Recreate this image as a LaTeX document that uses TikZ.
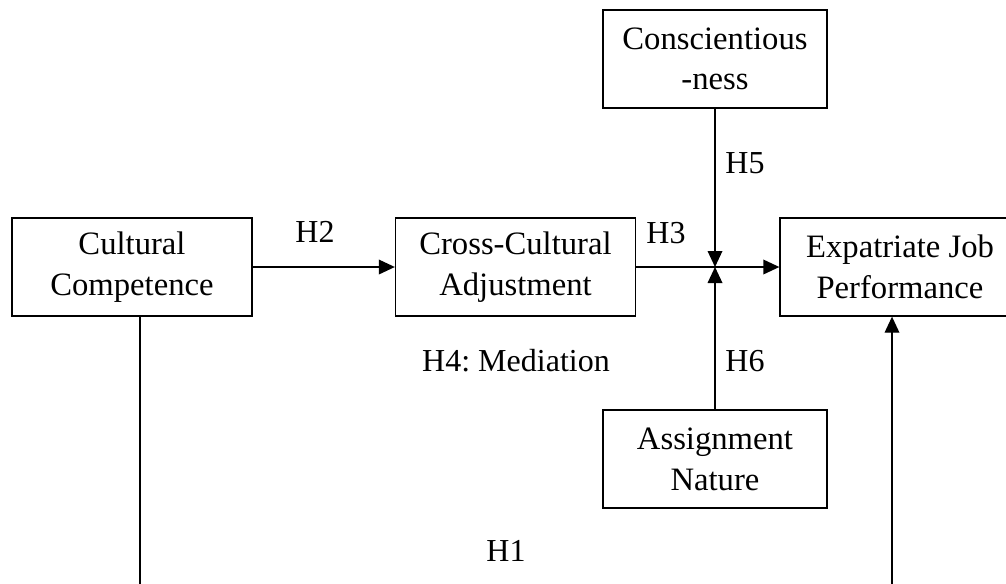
\documentclass[tikz,border=0pt]{standalone}
\usepackage{fontspec}
\setmainfont{Liberation Serif}
\usetikzlibrary{arrows.meta}
\frenchspacing

\begin{document}
\begin{tikzpicture}[x=0.75pt,y=-0.75pt,line width=1pt,
    box/.style={draw,rectangle,align=center,minimum height=73.5pt,
      inner sep=0pt,font=\fontsize{24.5}{30.5}\selectfont},
    hyp/.style={inner sep=0pt,font=\fontsize{24}{30}\selectfont},
    >={Triangle[length=12pt,width=11pt]}]
    \useasboundingbox (0,0) rectangle (1006,583);
    \clip (0,0) rectangle (1006,583);
    % boxes
    \node[box,minimum width=180pt] (cc) at (132,267) {Cultural\\Competence};
    \node[box,minimum width=180pt] (cca) at (515.5,267) {Cross-Cultural\\Adjustment};
    \node[box,minimum width=180pt] (ejp) at (900,267) {Expatriate Job\\Performance};
    \node[box,minimum width=168pt] (con) at (715,59) {Conscientious\\-ness};
    \node[box,minimum width=168pt] (asn) at (715,459) {Assignment\\Nature};
    \coordinate (j) at (con.south |- cca.east);
    \coordinate (b1) at (140,600);
    \coordinate (b2) at (892,600);
    % paths
    \draw[->] (cc) -- (cca);
    \draw[->] (cca) -- (ejp);
    \draw[->] (con) -- (j);
    \draw[->] (asn) -- (j);
    \draw[->] (b1 |- cc.south) -- (b1) -- (b2) -- (b2 |- ejp.south);
    % hypotheses
    \node[hyp] (h1) at (506,551) {H1};
    \node[hyp] (h2) at (315,232) {H2};
    \node[hyp] (h3) at (666,233) {H3};
    \node[hyp] (h4) at (516,361) {H4: Mediation};
    \node[hyp] (h5) at (745,163) {H5};
    \node[hyp] (h6) at (745,361) {H6};
\end{tikzpicture}
\end{document}
